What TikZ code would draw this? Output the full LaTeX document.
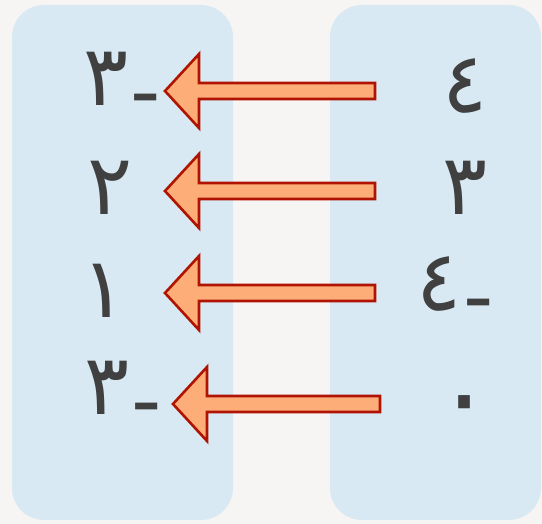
\documentclass[tikz,border=0pt]{standalone}
\usepackage{fontspec}
\usetikzlibrary{calc}
\newfontfamily\arabicfont[Script=Arabic]{DejaVu Sans}
\TeXXeTstate=1
\definecolor{bggrey}{HTML}{F6F5F4}
\definecolor{boxblue}{HTML}{D8E9F3}
\definecolor{numgrey}{HTML}{404040}
\definecolor{arrowred}{HTML}{B01400}
\definecolor{arroworange}{HTML}{FDAE78}
\newcommand\mdash{\raisebox{-15pt}{-}\hspace{2pt}}
\begin{document}
\begin{tikzpicture}[x=1pt,y=-1pt,
  num/.style={text=numgrey, font=\arabicfont\fontsize{84}{90}\selectfont, inner sep=0pt},
  blockarrow/.style={draw=arrowred, fill=arroworange, line width=2.6pt, line join=miter},
  panel/.style={fill=boxblue, rounded corners=32pt}]
\useasboundingbox (0,0) rectangle (542,524);
\fill[bggrey] (0,0) rectangle (542,524);
\fill[panel] (12,5) rectangle (233,520);
\fill[panel] (330,5) rectangle (541,520);
% left column
\node[num] (l1) at (122,86) {\beginR\mdash ٣\endR};
\node[num] (l2) at (110,188) {\beginR ٢\endR};
\node[num] (l3) at (104,291) {\beginR ١\endR};
\node[num] (l4) at (123,395) {\beginR\mdash ٣\endR};
% right column
\node[num] (r1) at (465,86) {\beginR ٤\endR};
\node[num] (r2) at (465,188) {\beginR ٣\endR};
\node[num] (r3) at (455,291) {\beginR\mdash ٤\endR};
\node[num, font=\arabicfont\fontsize{108}{112}\selectfont, anchor=base] (r4) at (465,433) {\beginR ٠\endR};
% arrows
\foreach \i/\tail/\tip/\yy in {1/375/165/91, 2/375/165/191, 3/375/165/293, 4/380/173/404}{
  \coordinate (t\i) at (\tail,\yy);
  \coordinate (h\i) at (\tip,\yy);
  \draw[blockarrow] ($(t\i)+(0,-8)$) -- ($(h\i)+(34,-8)$) -- ($(h\i)+(34,-37)$) -- (h\i)
     -- ($(h\i)+(34,37)$) -- ($(h\i)+(34,8)$) -- ($(t\i)+(0,8)$) -- cycle;
}
\end{tikzpicture}
\end{document}
